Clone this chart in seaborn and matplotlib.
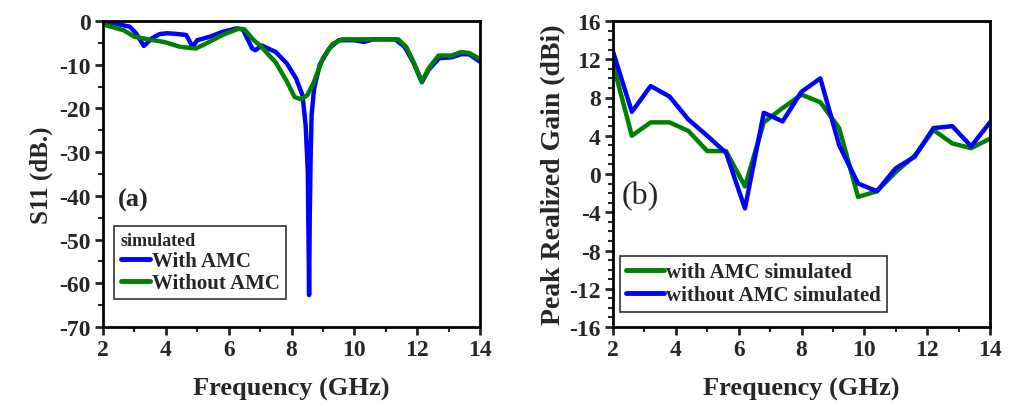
import numpy as np
import pandas as pd
import matplotlib
matplotlib.use("Agg")
import matplotlib.pyplot as plt
from matplotlib.ticker import MultipleLocator
import seaborn as sns

# ---------------- data: panel (a) S11 ----------------
s11_with_freq = [2.0, 2.4, 2.85, 3.05, 3.3, 3.55, 3.8, 4.05, 4.4, 4.65, 4.85, 5.0, 5.4, 5.8,
                 6.25, 6.45, 6.75, 6.85, 7.05, 7.5, 7.85, 8.15, 8.35, 8.45, 8.52, 8.56, 8.58,
                 8.61, 8.64, 8.72, 8.9, 9.2, 9.5, 10.0, 10.3, 10.6, 11.3, 11.6, 11.88, 12.15,
                 12.36, 12.7, 13.1, 13.4, 13.65, 14.0]
s11_with_db = [-0.5, -0.6, -1.3, -2.8, -5.7, -4.0, -3.0, -2.8, -3.0, -3.2, -5.9, -4.4, -3.6, -2.5,
               -1.7, -1.9, -6.3, -6.7, -5.6, -7.1, -9.7, -13.2, -17.0, -23.8, -34.5, -62.7, -45.0,
               -30.7, -21.5, -15.4, -10.0, -6.3, -4.4, -4.4, -4.8, -4.2, -4.2, -5.9, -9.5, -14.0,
               -11.2, -8.5, -8.3, -7.6, -7.6, -9.3]

s11_without_freq = [2.0, 2.65, 3.0, 3.6, 3.95, 4.45, 4.95, 5.3, 5.8, 6.3, 6.5, 6.8, 7.0, 7.5,
                    7.85, 8.1, 8.3, 8.5, 8.7, 9.0, 9.3, 9.6, 11.4, 11.65, 11.88, 12.15, 12.36,
                    12.68, 13.1, 13.4, 13.65, 14.0]
s11_without_db = [-0.8, -2.1, -3.6, -4.4, -4.8, -5.9, -6.3, -5.1, -3.2, -1.8, -1.9, -4.4, -5.6,
                  -9.5, -13.8, -17.4, -17.9, -17.0, -14.2, -8.5, -5.3, -4.2, -4.2, -5.9, -9.3,
                  -13.9, -10.9, -7.9, -7.9, -7.1, -7.3, -8.7]

# ---------------- data: panel (b) gain ----------------
gain_freq = [2.0, 2.6, 3.2, 3.8, 4.4, 5.0, 5.6, 6.2, 6.8, 7.4, 8.0, 8.6, 9.2, 9.8, 10.4, 11.0,
             11.6, 12.2, 12.8, 13.4, 14.0]
gain_with = [11.5, 4.0, 5.4, 5.4, 4.5, 2.4, 2.4, -1.3, 5.4, 6.9, 8.3, 7.5, 4.8, -2.4, -1.8, 0.2,
             1.9, 4.6, 3.2, 2.7, 3.7]
gain_without = [12.8, 6.5, 9.2, 8.1, 5.7, 4.0, 2.2, -3.6, 6.4, 5.5, 8.6, 10.0, 3.0, -1.0, -1.8,
                0.6, 1.8, 4.8, 5.0, 2.9, 5.4]

x_ticks = [2, 4, 6, 8, 10, 12, 14]
s11_ticks = [0, -10, -20, -30, -40, -50, -60, -70]
gain_ticks = [16, 12, 8, 4, 0, -4, -8, -12, -16]

BLUE = "#0000ff"
GREEN = "#008000"

sns.set_style("ticks")
plt.rcParams["font.family"] = ["Liberation Serif", "DejaVu Serif"]
plt.rcParams["font.weight"] = "bold"
plt.rcParams["axes.labelweight"] = "bold"
plt.rcParams["axes.unicode_minus"] = False

fig = plt.figure(figsize=(10.16, 4.10), dpi=100)
axA = fig.add_axes([103 / 1016, 1 - 328 / 410, 377 / 1016, 306 / 410])
axB = fig.add_axes([613 / 1016, 1 - 328 / 410, 377 / 1016, 306 / 410])

sns.lineplot(x=s11_with_freq, y=s11_with_db, ax=axA, color=BLUE, lw=3.2, label="With AMC",
             sort=False, estimator=None)
sns.lineplot(x=s11_without_freq, y=s11_without_db, ax=axA, color=GREEN, lw=3.2,
             label="Without AMC", sort=False, estimator=None)

sns.lineplot(x=gain_freq, y=gain_with, ax=axB, color=GREEN, lw=3.2, label="with AMC simulated",
             sort=False, estimator=None)
sns.lineplot(x=gain_freq, y=gain_without, ax=axB, color=BLUE, lw=3.2,
             label="without AMC simulated", sort=False, estimator=None)

for ax in (axA, axB):
    ax.set_xlim(2, 14)
    ax.set_xticks(x_ticks)
    ax.xaxis.set_minor_locator(MultipleLocator(1))
    for s in ax.spines.values():
        s.set_linewidth(2.0)
        s.set_color("black")
    ax.tick_params(which="major", direction="out", length=6, width=2, labelsize=17, pad=3)
    ax.tick_params(which="minor", direction="out", length=3.5, width=1.5)
    ax.set_xlabel("Frequency (GHz)", fontsize=19, fontweight="bold", labelpad=12)

axA.set_ylim(-70, 0)
axA.set_yticks(s11_ticks)
axA.yaxis.set_minor_locator(MultipleLocator(5))
axA.set_ylabel("S11 (dB.)", fontsize=18, fontweight="bold", labelpad=4)

axB.set_ylim(-16, 16)
axB.set_yticks(gain_ticks)
axB.yaxis.set_minor_locator(MultipleLocator(1))
axB.set_ylabel("Peak Realized Gain (dBi)", fontsize=20, fontweight="bold", labelpad=2)

for ax in (axA, axB):
    for lab in ax.get_xticklabels() + ax.get_yticklabels():
        lab.set_fontweight("bold")

axA.text(0.04, 0.418, "(a)", transform=axA.transAxes, fontsize=19, fontweight="bold",
         va="center", ha="left")
axB.text(0.024, 0.428, "(b)", transform=axB.transAxes, fontsize=23, fontweight="normal",
         va="center", ha="left")

legA = axA.legend(title="simulated", loc="lower left", bbox_to_anchor=(0.03, 0.09),
                  prop={"size": 15, "weight": "bold"}, title_fontproperties={"size": 13, "weight": "bold"},
                  alignment="left", frameon=True, fancybox=False, handlelength=1.4,
                  handletextpad=0.1, borderpad=0.3, labelspacing=0.1, borderaxespad=0)
legA.get_frame().set_edgecolor("black")
legA.get_frame().set_linewidth(1.2)

legB = axB.legend(loc="lower left", bbox_to_anchor=(0.019, 0.05),
                  prop={"size": 15, "weight": "bold"}, frameon=True, fancybox=False,
                  handlelength=1.8, handletextpad=0.1, borderpad=0.3, labelspacing=0.15,
                  borderaxespad=0)
legB.get_frame().set_edgecolor("black")
legB.get_frame().set_linewidth(1.2)
for leg in (legA, legB):
    for h in leg.get_lines():
        h.set_linewidth(3.5)

fig.savefig("out.png", dpi=100)
